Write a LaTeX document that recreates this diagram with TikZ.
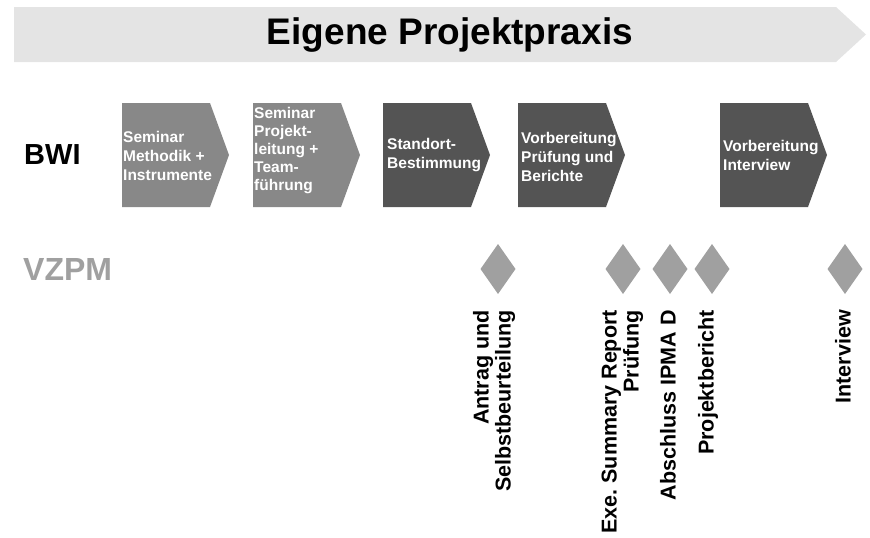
\documentclass[tikz,border=0pt]{standalone}
\usepackage{fontspec}
\setmainfont{Liberation Sans}
\frenchspacing
\definecolor{bannergray}{RGB}{228,228,228}
\definecolor{lightbox}{RGB}{136,136,136}
\definecolor{darkbox}{RGB}{84,84,84}
\definecolor{vzgray}{RGB}{160,160,160}
\tikzset{
  banner/.style={fill=bannergray, draw=none},
  chevlight/.style={fill=lightbox, draw=none},
  chevdark/.style={fill=darkbox, draw=none},
  chevtext/.style={anchor=west, inner sep=0pt, align=left, text=white, font=\fontsize{15.5}{19}\selectfont\bfseries},
  milestone/.style={fill=vzgray, draw=none},
  mslabel/.style={rotate=90, anchor=east, inner sep=0pt, align=right, font=\fontsize{21.5}{22}\selectfont\bfseries},
  rowlabel/.style={anchor=west, inner sep=0pt, font=\fontsize{29}{29}\selectfont\bfseries}
}
\begin{document}
\begin{tikzpicture}[x=1pt,y=-1pt]
\useasboundingbox (0,0) rectangle (870,538);
% banner
\path[banner] (14,7) -- (836,7) -- (866,34.5) -- (836,62) -- (14,62) -- cycle;
\node[inner sep=0pt, font=\fontsize{37}{37}\selectfont\bfseries] (title) at (450,35) {Eigene Projektpraxis};
% row labels
\node[rowlabel] (bwi) at (24,155) {BWI};
\node[rowlabel, text=vzgray, font=\fontsize{32}{32}\selectfont\bfseries] (vzpm) at (23,269) {VZPM};
% chevrons
\path[chevlight] (122,103) -- (210,103) -- (229,155) -- (210,207) -- (122,207) -- cycle;
\path[chevlight] (253,103) -- (341,103) -- (360,155) -- (341,207) -- (253,207) -- cycle;
\path[chevdark] (383,103) -- (471,103) -- (490,155) -- (471,207) -- (383,207) -- cycle;
\path[chevdark] (518,103) -- (606,103) -- (625,155) -- (606,207) -- (518,207) -- cycle;
\path[chevdark] (720,103) -- (808,103) -- (827,155) -- (808,207) -- (720,207) -- cycle;
\node[chevtext] (c1) at (123,156) {Seminar\\Methodik +\\Instrumente};
\node[chevtext, font=\fontsize{15.5}{18}\selectfont\bfseries] (c2) at (254,151) {Seminar\\Projekt-\\leitung +\\Team-\\führung};
\node[chevtext] (c3) at (387,155) {Standort-\\Bestimmung};
\node[chevtext] (c4) at (521,157) {Vorbereitung\\Prüfung und\\Berichte};
\node[chevtext] (c5) at (723,155) {Vorbereitung\\Interview};
% milestones
\foreach \n/\x in {m1/498, m2/623, m3/670, m4/712, m5/845}{
  \path[milestone] (\x,244) coordinate (\n) -- (\x+17.5,269) -- (\x,294) -- (\x-17.5,269) -- cycle;
}
\node[mslabel] (l1) at (494,310) {Antrag und\\Selbstbeurteilung};
\node[mslabel] (l2) at (622.5,310) {Exe. Summary Report\\Prüfung};
\node[mslabel] (l3) at (668,310) {Abschluss IPMA D};
\node[mslabel] (l4) at (708,310) {Projektbericht};
\node[mslabel] (l5) at (843,310) {Interview};
\end{tikzpicture}
\end{document}
